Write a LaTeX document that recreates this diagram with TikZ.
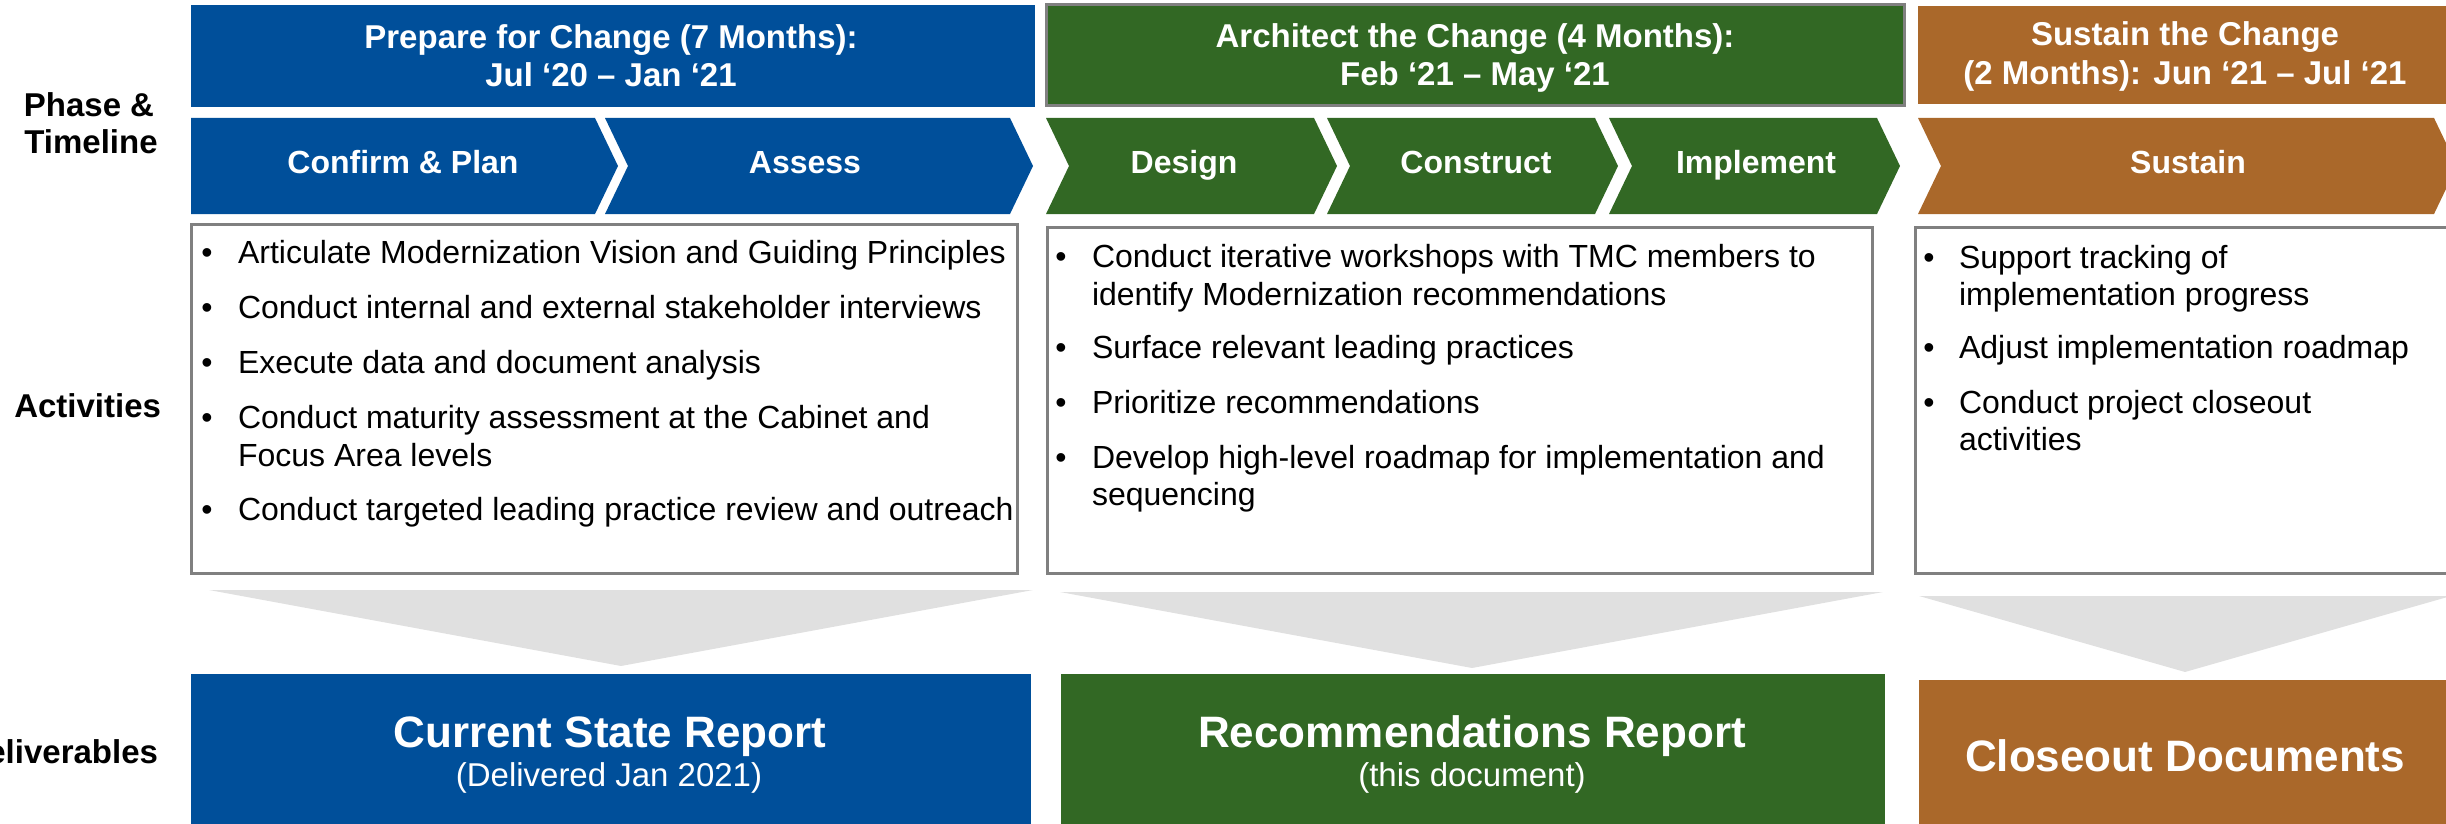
\documentclass[tikz,border=0pt]{standalone}
\usepackage{fontspec}
\setmainfont{Liberation Sans}
\definecolor{cblue}{HTML}{004F9A}
\definecolor{cgreen}{HTML}{326824}
\definecolor{corange}{HTML}{AA682A}
\definecolor{boxgray}{HTML}{808080}
\definecolor{trigray}{HTML}{E0E0E0}
\begin{document}
\begin{tikzpicture}[x=0.5pt,y=-0.5pt,
  every node/.style={inner sep=0pt, outer sep=0pt},
  hd/.style={text=white, font=\fontsize{16.5}{20}\selectfont\bfseries, anchor=base},
  ch/.style={text=white, font=\fontsize{16}{19}\selectfont\bfseries, anchor=base},
  lbl/.style={text=black, font=\fontsize{16.5}{20}\selectfont\bfseries},
  act/.style={text=black, font=\fontsize{16}{19}\selectfont, anchor=base west},
  bul/.style={text=black, font=\fontsize{16}{19}\selectfont, anchor=base},
  actbox/.style={draw=boxgray, line width=1.5pt, fill=white},
  tri/.style={fill=trigray},
  dtitle/.style={text=white, font=\fontsize{22}{26}\selectfont\bfseries, anchor=base},
  dsub/.style={text=white, font=\fontsize{16.5}{20}\selectfont, anchor=base},
]
\useasboundingbox (0,0) rectangle (2446,824);

% ---- header bars
\fill[cblue] (191,5) rectangle (1035,107);
\filldraw[fill=cgreen, draw=boxgray, line width=1.5pt] (1046,5) rectangle (1904,106);
\fill[corange] (1918,6) rectangle (2460,104);

\node[hd] (h1a) at (611,49) {Prepare for Change (7 Months):};
\node[hd] (h1b) at (611,87) {Jul ‘20 – Jan ‘21};
\node[hd] (h2a) at (1475,48) {Architect the Change (4 Months):};
\node[hd] (h2b) at (1475,86) {Feb ‘21 – May ‘21};
\node[hd] (h3a) at (2185,46) {Sustain the Change};
\node[hd] (h3b) at (2185,85) {(2 Months): Jun ‘21 – Jul ‘21};

% ---- chevrons
\fill[cblue] (191,118) -- (595,118) -- (618,166) -- (595,214) -- (191,214) -- cycle;
\fill[cblue] (605,118) -- (1010,118) -- (1033,166) -- (1010,214) -- (605,214) -- (628,166) -- cycle;
\fill[cgreen] (1046,118) -- (1314,118) -- (1337,166) -- (1314,214) -- (1046,214) -- (1069,166) -- cycle;
\fill[cgreen] (1327,118) -- (1595,118) -- (1618,166) -- (1595,214) -- (1327,214) -- (1350,166) -- cycle;
\fill[cgreen] (1609,118) -- (1877,118) -- (1900,166) -- (1877,214) -- (1609,214) -- (1632,166) -- cycle;
\fill[corange] (1918,118) -- (2434,118) -- (2457,166) -- (2434,214) -- (1918,214) -- (1941,166) -- cycle;

\node[ch] (c1) at (403,173) {Confirm \& Plan};
\node[ch] (c2) at (805,173) {Assess};
\node[ch] (c3) at (1184,173) {Design};
\node[ch] (c4) at (1476,173) {Construct};
\node[ch] (c5) at (1756,173) {Implement};
\node[ch] (c6) at (2188,173) {Sustain};

% ---- row labels
\node[lbl, anchor=base] (lp1) at (89,117) {Phase \&};
\node[lbl, anchor=base] (lp2) at (91,154) {Timeline};
\node[lbl, anchor=base east] (la) at (161,417) {Activities};
\node[lbl, anchor=base east] (ld) at (158,763) {Deliverables};

% ---- activity boxes
\draw[actbox] (191,224) rectangle (1017,573);
\draw[actbox] (1047,227) rectangle (1872,573);
\draw[actbox] (1915,227) rectangle (2460,573);

% blue activities
\node[bul] (ba1) at (207,263) {•};
\node[act] (a1) at (238,263) {Articulate Modernization Vision and Guiding Principles};
\node[bul] (ba2) at (207,318) {•};
\node[act] (a2) at (238,318) {Conduct internal and external stakeholder interviews};
\node[bul] (ba3) at (207,373) {•};
\node[act] (a3) at (238,373) {Execute data and document analysis};
\node[bul] (ba4) at (207,428) {•};
\node[act] (a4) at (238,428) {Conduct maturity assessment at the Cabinet and};
\node[act] (a4b) at (238,466) {Focus Area levels};
\node[bul] (ba5) at (207,520) {•};
\node[act] (a5) at (238,520) {Conduct targeted leading practice review and outreach};

% green activities
\node[bul] (bg1) at (1061,267) {•};
\node[act] (g1) at (1092,267) {Conduct iterative workshops with TMC members to};
\node[act] (g1b) at (1092,305) {identify Modernization recommendations};
\node[bul] (bg2) at (1061,358) {•};
\node[act] (g2) at (1092,358) {Surface relevant leading practices};
\node[bul] (bg3) at (1061,413) {•};
\node[act] (g3) at (1092,413) {Prioritize recommendations};
\node[bul] (bg4) at (1061,468) {•};
\node[act] (g4) at (1092,468) {Develop high-level roadmap for implementation and};
\node[act] (g4b) at (1092,505) {sequencing};

% orange activities
\node[bul] (bo1) at (1929,268) {•};
\node[act] (o1) at (1959,268) {Support tracking of};
\node[act] (o1b) at (1959,305) {implementation progress};
\node[bul] (bo2) at (1929,358) {•};
\node[act] (o2) at (1959,358) {Adjust implementation roadmap};
\node[bul] (bo3) at (1929,413) {•};
\node[act] (o3) at (1959,413) {Conduct project closeout};
\node[act] (o3b) at (1959,450) {activities};

% ---- grey funnels
\fill[tri] (209,590) -- (1033,590) -- (621,666) -- cycle;
\fill[tri] (1060,592) -- (1883,592) -- (1472,668) -- cycle;
\fill[tri] (1919,596) -- (2451,596) -- (2185,672) -- cycle;

% ---- deliverables
\fill[cblue] (191,674) rectangle (1031,830);
\fill[cgreen] (1061,674) rectangle (1885,830);
\fill[corange] (1919,680) rectangle (2460,830);

\node[dtitle] (d1) at (610,747) {Current State Report};
\node[dsub] (d1s) at (609,786) {(Delivered Jan 2021)};
\node[dtitle] (d2) at (1472,747) {Recommendations Report};
\node[dsub] (d2s) at (1472,786) {(this document)};
\node[dtitle] (d3) at (2185,771) {Closeout Documents};
\end{tikzpicture}
\end{document}
